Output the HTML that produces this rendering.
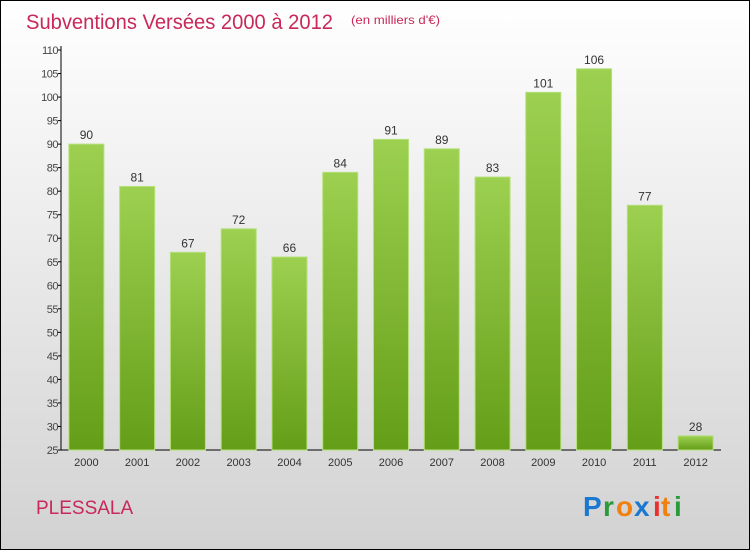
<!DOCTYPE html>
<html><head><meta charset="utf-8"><style>
html,body{margin:0;padding:0}
body{width:750px;height:550px;overflow:hidden;font-family:"Liberation Sans",sans-serif}
</style></head><body>
<svg id="c" width="750" height="550" xmlns="http://www.w3.org/2000/svg">
<defs>
<linearGradient id="bg" x1="0" y1="0" x2="0" y2="1"><stop offset="0" stop-color="#ffffff"/><stop offset="1" stop-color="#d2d2d2"/></linearGradient>
<linearGradient id="bar" x1="0" y1="0" x2="0" y2="1"><stop offset="0" stop-color="#9dd050"/><stop offset="1" stop-color="#649e18"/></linearGradient>
</defs>
<rect x="0.5" y="0.5" width="749" height="549" fill="url(#bg)" stroke="#000"/>
<text x="26" y="29" font-size="21" fill="#c8285a" textLength="307" lengthAdjust="spacingAndGlyphs">Subventions Versées 2000 à 2012</text>
<text x="351" y="24" font-size="12" fill="#c8285a" textLength="89" lengthAdjust="spacingAndGlyphs">(en milliers d'€)</text>
<text x="36" y="514" font-size="19" fill="#c8285a">PLESSALA</text>
<g font-size="28" font-weight="bold" font-family="'Liberation Sans',sans-serif">
<text x="583" y="516" fill="#1a78d0">P</text><text x="603" y="516" fill="#2a9a3a">r</text><text x="616" y="516" fill="#f08010">o</text><text x="634" y="516" fill="#1a78d0">x</text><text x="653" y="516" fill="#e83030">i</text><text x="661" y="516" fill="#f08010">t</text><text x="674" y="516" fill="#2a9a3a">i</text>
</g>
<g id="plot"></g>
</svg>
<script>
const categories=["2000","2001","2002","2003","2004","2005","2006","2007","2008","2009","2010","2011","2012"];
const values=[90,81,67,72,66,84,91,89,83,101,106,77,28];
const yTicks=[25,30,35,40,45,50,55,60,65,70,75,80,85,90,95,100,105,110];
const NS="http://www.w3.org/2000/svg";
const g=document.getElementById('plot');
const x0=61,x1=721,yMin=25,yMax=110,yTop=50,yBot=450;
const band=(x1-x0)/categories.length;
const y=v=>yBot-(v-yMin)/(yMax-yMin)*(yBot-yTop);
const xc=i=>x0+band*(i+0.5);
function mk(t,a){const e=document.createElementNS(NS,t);for(const k in a)e.setAttribute(k,a[k]);g.appendChild(e);return e;}
const ya=mk('line',{x1:x0,y1:yTop-4,x2:x0,y2:yBot,stroke:'#000'});


const xa=mk('line',{x1:x0,y1:yBot,x2:x1,y2:yBot,stroke:'#000'});


yTicks.forEach(v=>{
  const tk=mk('line',{x1:x0-3,y1:y(v),x2:x0,y2:y(v),stroke:'#000'});
  
  
  const t=mk('text',{x:x0-3,y:y(v)+4,'font-size':11,fill:'#444','text-anchor':'end','letter-spacing':'-0.5'});
  t.textContent=v;
  
  
});
categories.forEach((c,i)=>{
  const bw=35,v=values[i];
  const r=mk('rect',{x:xc(i)-bw/2,y:y(v),width:bw,height:yBot-y(v),fill:'url(#bar)',stroke:'#b5e07a','stroke-width':1});
  
  
  const vl=mk('text',{x:xc(i),y:y(v)-5,'font-size':12,fill:'#333','text-anchor':'middle'});
  vl.textContent=v;
  
  
  const xl=mk('text',{x:xc(i),y:yBot+16,'font-size':11,fill:'#333','text-anchor':'middle'});
  xl.textContent=c;
  
  
});
</script>
</body></html>
